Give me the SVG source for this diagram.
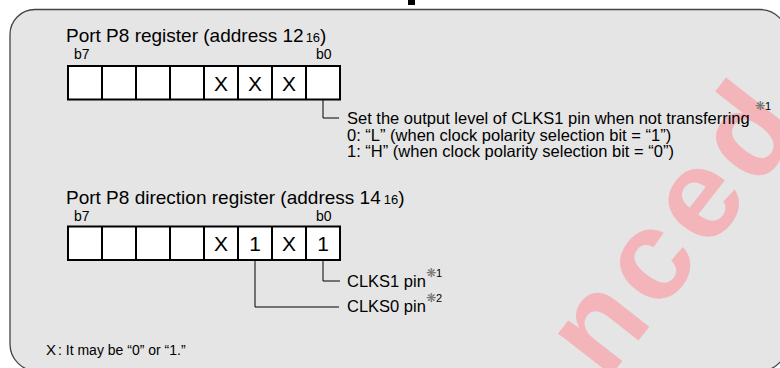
<svg xmlns="http://www.w3.org/2000/svg" width="780" height="368" viewBox="0 0 780 368">
<style>
 .t{font-family:"Liberation Sans",Arial,Helvetica,sans-serif;fill:#000}
 .title{font-size:19px}
 .sub{font-size:13px}
 .bit{font-size:14px}
 .desc{font-size:16.5px}
 .val{font-size:21px;text-anchor:middle}
 .x{font-size:21px;text-anchor:middle}
 .sup{font-size:11px}
 .mk{font-family:"DejaVu Sans",sans-serif;font-size:12px;fill:#707070}
 .cell{fill:#fff;stroke:#000;stroke-width:2}
 .div{stroke:#000;stroke-width:2}
 .conn{fill:none;stroke:#000;stroke-width:1}
 .wm{font-family:"Liberation Sans",Arial,sans-serif;font-weight:bold;font-size:128px;letter-spacing:8px;fill:#f3b5ba}
</style>
<rect width="780" height="368" fill="#fff"/>
<rect x="408" y="0" width="7" height="5" fill="#000"/>
<path d="M10 35 A25 25 0 0 1 35 9.5 H760 A27 27 0 0 1 787 36.5 V344 A27 27 0 0 1 760 371 H37 A27 27 0 0 1 10 344 Z" fill="#e5e5e5" stroke="#444" stroke-width="1.3"/>
<text class="wm" transform="translate(606,382) rotate(-52)">nced</text>

<g id="reg-p8">
 <text class="t title" x="66" y="42">Port P8 register (address 12<tspan class="sub" dx="2">16</tspan>)</text>
 <text class="t bit" x="74" y="59">b7</text>
 <text class="t bit" x="316" y="59">b0</text>
 <rect class="cell" x="68" y="66" width="272" height="33.5"/>
 <path class="div" d="M102 66V99.5M136 66V99.5M170 66V99.5M204 66V99.5M238 66V99.5M272 66V99.5M306 66V99.5"/>
 <text class="t x" x="221" y="91">X</text>
 <text class="t x" x="255" y="91">X</text>
 <text class="t x" x="289" y="91">X</text>
</g>

<g id="note-p8">
 <text class="t desc" x="347" y="124">Set the output level of CLKS1 pin when not transferring</text>
 <text class="mk" x="755" y="110">❋</text>
 <text class="t sup" x="765" y="110">1</text>
 <text class="t desc" x="347" y="140.5">0: “L” (when clock polarity selection bit = “1”)</text>
 <text class="t desc" x="347" y="157">1: “H” (when clock polarity selection bit = “0”)</text>
</g>

<g id="reg-pd8">
 <text class="t title" x="66" y="204">Port P8 direction register (address 14<tspan class="sub" dx="3">16</tspan>)</text>
 <text class="t bit" x="74" y="221">b7</text>
 <text class="t bit" x="316" y="221">b0</text>
 <rect class="cell" x="68" y="226.5" width="272" height="33.5"/>
 <path class="div" d="M102 226.5V260M136 226.5V260M170 226.5V260M204 226.5V260M238 226.5V260M272 226.5V260M306 226.5V260"/>
 <text class="t x" x="221" y="251">X</text>
 <text class="t val" x="255" y="251">1</text>
 <text class="t x" x="289" y="251">X</text>
 <text class="t val" x="323" y="251">1</text>
</g>

<g id="pin-clks1">
 <text class="t desc" x="347" y="287">CLKS1 pin</text>
 <text class="mk" x="426" y="277">❋</text>
 <text class="t sup" x="436" y="277">1</text>
</g>
<g id="pin-clks0">
 <text class="t desc" x="347" y="312">CLKS0 pin</text>
 <text class="mk" x="426" y="302">❋</text>
 <text class="t sup" x="436" y="302">2</text>
</g>

<g id="connectors">
 <path class="conn" d="M323 99.5V118H339"/>
 <path class="conn" d="M323 260V281H340"/>
 <path class="conn" d="M255 260V307H339"/>
</g>

<g id="legend">
 <text class="t" x="46" y="355" style="font-size:15px">X</text>
 <text class="t" x="58" y="355" style="font-size:14px">: It may be “0” or “1.”</text>
</g>
</svg>
